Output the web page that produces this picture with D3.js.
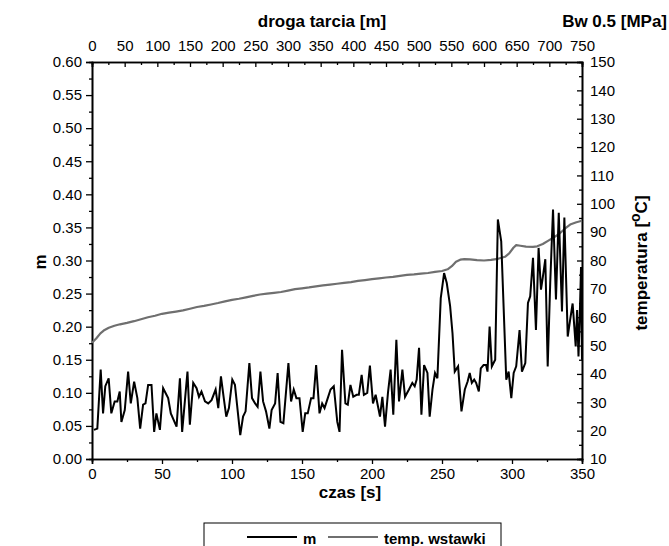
<!DOCTYPE html>
<html>
<head>
<meta charset="utf-8">
<script src="https://cdn.jsdelivr.net/npm/d3@7"></script>
<style>
  html, body { margin: 0; padding: 0; background: #fff; }
  svg text { font-family: "Liberation Sans", Arial, sans-serif; fill: #000; }
</style>
</head>
<body>
<div id="chart"></div>
<script>
// friction coefficient m over time
const M_TIME = [1.4, 3.8, 6.2, 7.9, 9.5, 11.9, 13.8, 16.2, 18.1, 19.8, 21, 23.4, 25.8, 27.7, 30.1, 32.4, 34.4, 36.5, 38.2, 40.1,
  42.5, 44.4, 46, 48.5, 50.8, 54.4, 56.3, 60.4, 62.8, 64.4, 66.4, 68.2, 69.9, 72.3, 74.7, 76.4, 78.2, 80.7, 83, 85.4,
  88.3, 90.2, 92.1, 94, 95.9, 97.8, 100.2, 102.1, 105.9, 107.9, 109.7, 112.4, 114.3, 116.5, 118.3, 120.3, 122.2, 124.3, 126.7, 128.3,
  130.8, 132.6, 134.6, 136.7, 140.3, 142.2, 144.1, 146, 148.2, 150.5, 152.3, 154.1, 156.5, 158.2, 160.1, 162.5, 164.4, 166.1, 168.4, 170.4,
  172.7, 175.2, 176.8, 178.6, 181, 182.7, 184.6, 186.6, 189, 190.6, 192.6, 194.2, 196.6, 198.5, 200.7, 202.6, 204.5, 205.7, 207.4, 209.3,
  211.4, 213.3, 215.2, 217.4, 219.3, 221.7, 223.6, 226.4, 228.8, 230.5, 231.9, 233.6, 235.3, 237.2, 239.6, 241.2, 243.2, 245, 246.7, 249.1,
  251.5, 253.4, 255.8, 257.5, 259.1, 261.5, 263.9, 266.3, 268.3, 269.8, 271.3, 273, 274.4, 276.3, 277.7, 279.7, 281.5, 282.5, 284, 285.6,
  288, 289.9, 292.3, 295.9, 297.6, 299.5, 301.2, 303, 305.4, 307.1, 309.5, 311.4, 313, 315, 317.1, 319, 320.7, 322.1, 323.8, 325.5,
  327.3, 329.3, 331.4, 333.4, 335.7, 337.4, 339.8, 341.5, 343.3, 344.5, 345.5, 346.5, 347.5, 348.4, 349.3, 350];
const M_VALUES = [0.044, 0.046, 0.135, 0.069, 0.110, 0.122, 0.069, 0.087, 0.087, 0.102, 0.056, 0.074, 0.132, 0.084, 0.117, 0.092, 0.046, 0.082, 0.084, 0.112,
  0.112, 0.041, 0.069, 0.044, 0.107, 0.092, 0.069, 0.049, 0.122, 0.041, 0.089, 0.132, 0.052, 0.115, 0.107, 0.094, 0.102, 0.087, 0.084, 0.089,
  0.105, 0.077, 0.125, 0.094, 0.064, 0.077, 0.120, 0.112, 0.036, 0.064, 0.072, 0.145, 0.092, 0.084, 0.079, 0.132, 0.087, 0.072, 0.046, 0.074,
  0.084, 0.130, 0.056, 0.054, 0.145, 0.087, 0.105, 0.092, 0.092, 0.041, 0.069, 0.069, 0.092, 0.092, 0.142, 0.069, 0.084, 0.077, 0.092, 0.105,
  0.110, 0.056, 0.041, 0.165, 0.084, 0.082, 0.112, 0.094, 0.097, 0.097, 0.127, 0.097, 0.100, 0.141, 0.084, 0.097, 0.077, 0.064, 0.094, 0.049,
  0.100, 0.135, 0.067, 0.180, 0.087, 0.135, 0.094, 0.105, 0.115, 0.110, 0.120, 0.168, 0.067, 0.142, 0.130, 0.064, 0.105, 0.130, 0.122, 0.243,
  0.281, 0.266, 0.231, 0.190, 0.132, 0.140, 0.072, 0.105, 0.117, 0.130, 0.115, 0.120, 0.115, 0.102, 0.137, 0.142, 0.142, 0.132, 0.200, 0.140,
  0.150, 0.362, 0.329, 0.120, 0.132, 0.092, 0.130, 0.140, 0.195, 0.132, 0.145, 0.236, 0.246, 0.304, 0.195, 0.319, 0.256, 0.276, 0.302, 0.140,
  0.266, 0.377, 0.241, 0.372, 0.223, 0.365, 0.185, 0.210, 0.235, 0.200, 0.170, 0.225, 0.155, 0.215, 0.290, 0.150];

// insert temperature over time
const T_TIME = [0, 3, 6, 9, 12, 16, 20, 25, 30, 35, 40, 45, 50, 55, 60, 65, 70, 75, 80, 85, 90, 95, 100, 105, 110, 115, 120, 125, 130, 135,
  140, 145, 150, 155, 160, 165, 170, 175, 180, 185, 190, 195, 200, 205, 210, 215, 220, 225, 230, 235, 240, 245, 250, 254, 257, 260, 263, 266, 270, 275,
  280, 285, 290, 295, 298, 301, 303, 306, 310, 315, 318, 322, 326, 330, 334, 338, 342, 346, 350];
const T_VALUES = [51, 52.5, 54.3, 55.5, 56.3, 57, 57.5, 58, 58.6, 59.3, 60, 60.5, 61.2, 61.6, 62, 62.4, 63, 63.6, 64, 64.5, 65, 65.6, 66.1, 66.5, 67, 67.5, 68, 68.3, 68.6, 68.9,
  69.4, 69.9, 70.2, 70.5, 70.9, 71.2, 71.5, 71.8, 72.1, 72.4, 72.8, 73.1, 73.4, 73.7, 74, 74.2, 74.6, 74.9, 75.1, 75.4, 75.6, 76, 76.3, 76.9, 78, 79.6, 80.3, 80.5, 80.4, 80.1,
  80, 80.2, 80.6, 81.3, 82.5, 84.5, 85.4, 85.2, 84.9, 84.8, 85, 85.8, 87, 88.2, 89.5, 91.3, 92.8, 93.5, 94];

const X_TICKS = [0, 50, 100, 150, 200, 250, 300, 350];
const TOP_TICKS = [0, 50, 100, 150, 200, 250, 300, 350, 400, 450, 500, 550, 600, 650, 700, 750];
const Y_TICKS = [0, 0.05, 0.10, 0.15, 0.20, 0.25, 0.30, 0.35, 0.40, 0.45, 0.50, 0.55, 0.60];
const T_TICKS = [10, 20, 30, 40, 50, 60, 70, 80, 90, 100, 110, 120, 130, 140, 150];

const width = 669, height = 546;
const margin = { top: 62, right: 87, bottom: 87, left: 92 };
const innerW = width - margin.left - margin.right;
const innerH = height - margin.top - margin.bottom;

const svg = d3.select("#chart").append("svg")
  .attr("width", width)
  .attr("height", height);

const g = svg.append("g")
  .attr("transform", `translate(${margin.left},${margin.top})`);

const x = d3.scaleLinear().domain([0, 350]).range([0, innerW]);
const xTop = d3.scaleLinear().domain([0, 750]).range([0, innerW]);
const y = d3.scaleLinear().domain([0, 0.6]).range([innerH, 0]);
const yT = d3.scaleLinear().domain([10, 150]).range([innerH, 0]);

// ------- AXES -------
function styleAxis(sel) {
  sel.select(".domain").attr("stroke", "#000").attr("stroke-width", 1.6);
  sel.selectAll(".tick line").attr("stroke", "#000").attr("stroke-width", 1.3);
  sel.selectAll(".tick text").attr("font-size", 15).attr("fill", "#000");
}

// minor ticks first (no labels)
g.append("g")
  .attr("transform", `translate(0,${innerH})`)
  .call(d3.axisBottom(x).tickValues(d3.range(25, 350, 50)).tickSize(3).tickFormat(""))
  .call(styleAxis);
g.append("g")
  .call(d3.axisTop(xTop).tickValues(d3.range(25, 750, 50)).tickSize(-3).tickFormat(""))
  .call(styleAxis);
g.append("g")
  .call(d3.axisLeft(y).tickValues(d3.range(0.025, 0.6, 0.05)).tickSize(3).tickFormat(""))
  .call(styleAxis);
g.append("g")
  .attr("transform", `translate(${innerW},0)`)
  .call(d3.axisRight(yT).tickValues(d3.range(15, 150, 10)).tickSize(-3).tickFormat(""))
  .call(styleAxis);

// major ticks
g.append("g")
  .attr("transform", `translate(0,${innerH})`)
  .call(d3.axisBottom(x).tickValues(X_TICKS).tickSize(5).tickPadding(4).tickFormat(d3.format("d")))
  .call(styleAxis);

const topAxis = g.append("g")
  .call(d3.axisTop(xTop).tickValues(TOP_TICKS).tickSize(-5).tickFormat(d3.format("d")))
  .call(styleAxis);
topAxis.selectAll(".tick text").attr("y", -11);

g.append("g")
  .call(d3.axisLeft(y).tickValues(Y_TICKS).tickSize(6).tickPadding(4).tickFormat(d3.format(".2f")))
  .call(styleAxis);

const rightAxis = g.append("g")
  .attr("transform", `translate(${innerW},0)`)
  .call(d3.axisRight(yT).tickValues(T_TICKS).tickSize(-5).tickFormat(d3.format("d")))
  .call(styleAxis);
rightAxis.selectAll(".tick text").attr("x", 8);

// ------- LINES -------
const mData = M_TIME.map((t, i) => ({ t, v: M_VALUES[i] }));
const tData = T_TIME.map((t, i) => ({ t, v: T_VALUES[i] }));

g.append("path")
  .datum(tData)
  .attr("fill", "none")
  .attr("stroke", "#6f6f6f")
  .attr("stroke-width", 2.2)
  .attr("stroke-linejoin", "round")
  .attr("d", d3.line().x(d => x(d.t)).y(d => yT(d.v)));

g.append("path")
  .datum(mData)
  .attr("fill", "none")
  .attr("stroke", "#000")
  .attr("stroke-width", 2)
  .attr("stroke-linejoin", "miter")
  .attr("d", d3.line().x(d => x(d.t)).y(d => y(d.v)));

// ------- LABELS -------
svg.append("text")
  .attr("x", 322)
  .attr("y", 27)
  .attr("text-anchor", "middle")
  .attr("font-size", 17)
  .attr("font-weight", "bold")
  .text("droga tarcia [m]");

svg.append("text")
  .attr("x", 667)
  .attr("y", 27)
  .attr("text-anchor", "end")
  .attr("font-size", 17)
  .attr("font-weight", "bold")
  .text("Bw 0.5 [MPa]");

svg.append("text")
  .attr("x", 350)
  .attr("y", 498)
  .attr("text-anchor", "middle")
  .attr("font-size", 17)
  .attr("font-weight", "bold")
  .text("czas [s]");

svg.append("text")
  .attr("transform", "translate(46,262) rotate(-90)")
  .attr("text-anchor", "middle")
  .attr("font-size", 17)
  .attr("font-weight", "bold")
  .text("m");

const tLabel = svg.append("text")
  .attr("transform", "translate(647,263) rotate(-90)")
  .attr("text-anchor", "middle")
  .attr("font-size", 17)
  .attr("font-weight", "bold");
tLabel.append("tspan").text("temperatura [");
tLabel.append("tspan").attr("dy", -7).attr("font-size", 14).text("o");
tLabel.append("tspan").attr("dy", 7).text("C]");

// ------- LEGEND -------
const legend = svg.append("g").attr("transform", "translate(204,523)");
legend.append("rect")
  .attr("width", 297)
  .attr("height", 40)
  .attr("fill", "#fff")
  .attr("stroke", "#000")
  .attr("stroke-width", 1);

const LEGEND_ITEMS = [
  { label: "m", color: "#000", x0: 43 },
  { label: "temp. wstawki", color: "#6f6f6f", x0: 124 }
];
LEGEND_ITEMS.forEach(it => {
  legend.append("line")
    .attr("x1", it.x0).attr("x2", it.x0 + 50)
    .attr("y1", 14).attr("y2", 14)
    .attr("stroke", it.color)
    .attr("stroke-width", 2);
  legend.append("text")
    .attr("x", it.x0 + 56)
    .attr("y", 21)
    .attr("font-size", 15)
    .attr("font-weight", "bold")
    .text(it.label);
});
</script>
</body>
</html>
